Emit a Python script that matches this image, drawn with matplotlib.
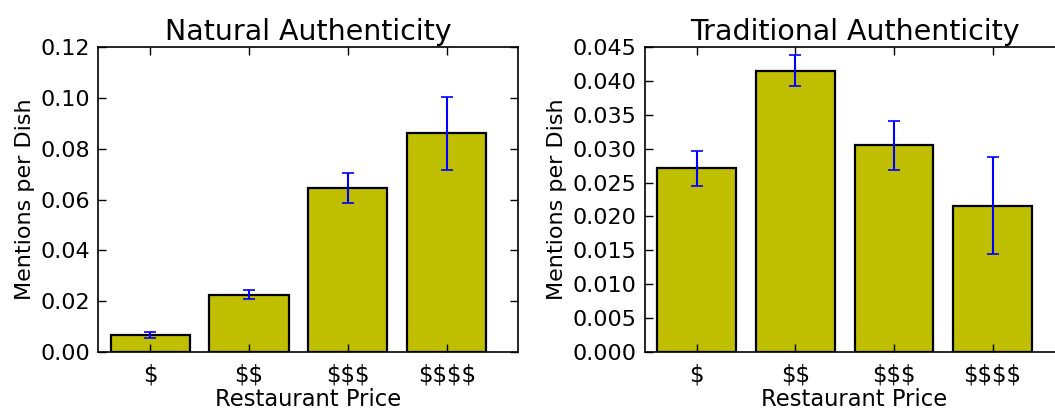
import matplotlib
matplotlib.use("Agg")
import matplotlib.pyplot as plt
import numpy as np

categories = ["$", "$$", "$$$", "$$$$"]
natural_vals = [0.0067, 0.0226, 0.0646, 0.0860]
natural_err = [0.0010, 0.0018, 0.0059, 0.0145]
trad_vals = [0.0271, 0.0415, 0.0305, 0.0216]
trad_err = [0.0026, 0.0023, 0.0036, 0.0072]

plt.rcParams['font.family'] = ['DejaVu Sans']

fig = plt.figure(figsize=(10.55, 4.13), dpi=100)
ax1 = fig.add_axes([98.3/1055, 61/413, 420/1055, 305/413])
ax2 = fig.add_axes([645/1055, 61/413, 419/1055, 305/413])

def draw(ax, vals, errs, title, ylim, ticks, fmt):
    x = np.arange(len(categories))
    ax.bar(x, vals, width=0.8, align='edge', color=(0.75, 0.75, 0.0),
           edgecolor='black', linewidth=1.6, yerr=errs, ecolor='blue',
           capsize=4, error_kw=dict(elinewidth=1.5, capthick=1.2))
    ax.set_xlim(-0.125, 4.125)
    ax.set_ylim(*ylim)
    ax.set_xticks(x + 0.4)
    labels = ax.set_xticklabels(categories, fontsize=16.5)
    for t in labels:
        t.set_parse_math(False)
    ax.set_yticks(ticks)
    ax.set_yticklabels([fmt % t for t in ticks], fontsize=16)
    ax.tick_params(direction='in', top=True, right=True, length=6, width=1)
    ax.tick_params(axis='x', pad=8)
    ax.tick_params(axis='y', pad=6)
    ax.set_title(title, fontsize=20.5, pad=5)
    ax.set_xlabel("Restaurant Price", fontsize=16.3, labelpad=1)
    ax.set_ylabel("Mentions per Dish", fontsize=16, labelpad=4)
    for s in ax.spines.values():
        s.set_linewidth(1.2)

draw(ax1, natural_vals, natural_err, "Natural Authenticity", (0, 0.12),
     np.arange(0, 0.1201, 0.02), "%.2f")
draw(ax2, trad_vals, trad_err, "Traditional Authenticity", (0, 0.045),
     np.arange(0, 0.04501, 0.005), "%.3f")

fig.savefig("out.png", dpi=100)
